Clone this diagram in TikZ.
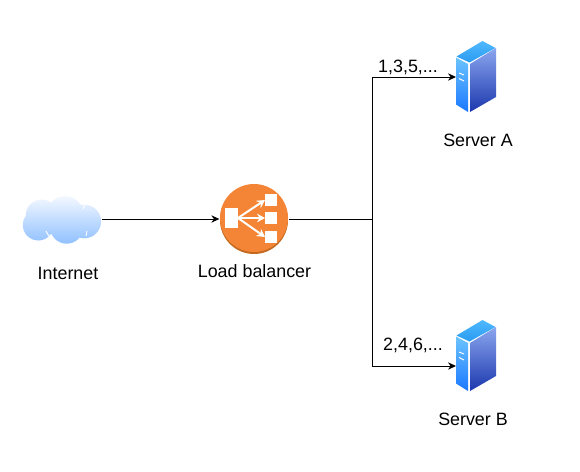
\documentclass[tikz,border=0pt]{standalone}
\usepackage{fontspec}
\setmainfont{Liberation Sans}
\usepackage{xcolor}
\definecolor{lbfront}{HTML}{F58536}
\definecolor{lbrim}{HTML}{C2691F}
\definecolor{toplight}{HTML}{4FB8FF}
\definecolor{topdark}{HTML}{2A9BF0}
\definecolor{leftlight}{HTML}{6CC4FF}
\definecolor{leftdark}{HTML}{1B78FF}
\definecolor{rightlight}{HTML}{8AA6EE}
\definecolor{rightdark}{HTML}{1C38AE}
\definecolor{cloudlight}{HTML}{F4F8FF}
\definecolor{clouddark}{HTML}{8FC0FF}
\usetikzlibrary{arrows.meta}
\tikzset{
    link/.style={black, line width=0.75pt},
    flow/.style={link, -{Stealth[length=6pt, width=5.5pt]}},
    iconbox/.style={inner sep=0pt, outer sep=0pt, minimum width=#1},
    caption/.style={font=\fontsize{13.4pt}{16pt}\selectfont, inner sep=0pt},
    fanout/.style={white, line width=1.5pt, -{Stealth[length=6pt, width=6.5pt]}},
    serverbox/.pic={
        % Top, left and right faces
        \shade[top color=toplight, bottom color=topdark]
            (-19.5,-20.5) -- (6.5,-36) -- (19.5,-29) -- (-6.5,-14.5) -- cycle;
        \shade[top color=leftlight, bottom color=leftdark]
            (-20,-19.5) -- (-8,-13) -- (-8,35) -- (-20,27.5) -- cycle;
        \shade[top color=rightlight, bottom color=rightdark]
            (-6,-13) -- (20,-29) -- (20,20) -- (-6,35) -- cycle;
        % Two slots on the front
        \draw[white, line width=0.75pt] (-17,-4) -- (-12,-2) (-17,1.5) -- (-12,4);
    }
}
\begin{document}
\begin{tikzpicture}[x=0.75pt, y=-0.75pt]
    \useasboundingbox (0,0) rectangle (580,471);

    % The three icon places, connectors attach to these
    \node[iconbox=60pt, minimum height=35pt] (internet) at (62,219) {};
    \node[circle, iconbox=52pt] (balancer) at (254,219) {};
    \node[iconbox=30pt, minimum height=54pt] (servera) at (476,77) {};
    \node[iconbox=30pt, minimum height=54pt] (serverb) at (476,356) {};
    \coordinate (split) at (372,219);
    \coordinate (portb) at (serverb.west |- 0,366);

    % Cloud, union of five circles
    \begin{scope}
        \clip (41.7,215.5) circle[radius=16] (38.3,225) circle[radius=15.5]
            (65,214.3) circle[radius=18.3] (66.7,227) circle[radius=16.7]
            (84.3,221.5) circle[radius=16.8];
        \shade[top color=cloudlight, bottom color=clouddark] (20,196) rectangle (104,244);
    \end{scope}
    \draw[white, line width=0.7pt] (46,231) .. controls (49,237) and (52,240) .. (55,242);
    \draw[white, line width=0.7pt] (85,205) -- (83,209);
    \draw[white, line width=0.7pt] (87,231) -- (86,236);

    % Balancer icon
    \fill[lbrim] (254,220) circle[radius=34];
    \fill[lbfront] (254,218) circle[radius=34];
    \fill[white] (225,208) rectangle (238,228);
    \foreach \y in {194,212,231} {
        \fill[white] (265,\y) rectangle (277,\y+12);
        \draw[fanout] (238,218) -- (265,\y+6);
    }

    % Servers
    \pic at (servera) {serverbox};
    \pic at (serverb) {serverbox};

    % Connectors
    \draw[flow] (internet) -- (balancer);
    \draw[link] (balancer) -- (split);
    \draw[flow] (split) |- (servera.west);
    \draw[flow] (split) |- (portb);

    % Labels
    \node[caption] (lblinternet) at (68,273) {Internet};
    \node[caption] (lblbalancer) at (254.5,271) {Load balancer};
    \node[caption] (lblservera) at (478,140) {Server A};
    \node[caption] (lblserverb) at (473,419) {Server B};
    \node[caption] (lblodd) at (408,67) {1,3,5,...};
    \node[caption] (lbleven) at (413,345) {2,4,6,...};
\end{tikzpicture}
\end{document}
